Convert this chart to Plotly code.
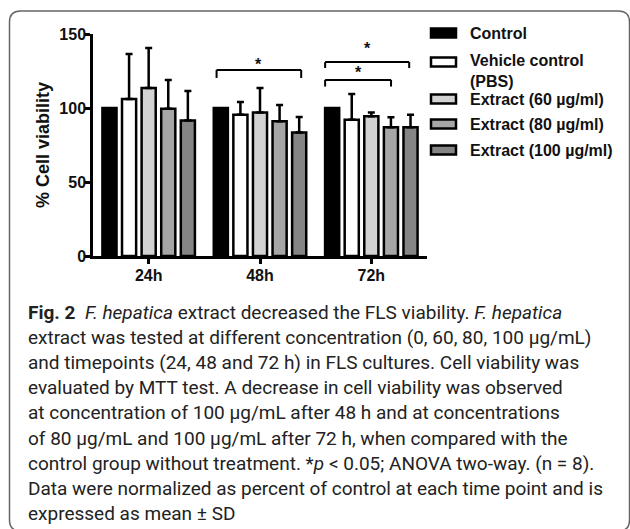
import plotly.graph_objects as go

# ---- data ----
timepoints = ["24h", "48h", "72h"]
series_names = ["Control", "Vehicle control<br>(PBS)", "Extract (60 µg/ml)",
                "Extract (80 µg/ml)", "Extract (100 µg/ml)"]
control = [100, 100, 100]
vehicle = [106, 95.5, 92]
extract_60 = [113.5, 97, 94.5]
extract_80 = [99.5, 91, 87]
extract_100 = [91.5, 83.5, 87]
sd_control = [0, 0, 0]
sd_vehicle = [30.5, 8.5, 17.5]
sd_60 = [27, 16.5, 2.5]
sd_80 = [19.5, 11, 6.8]
sd_100 = [20, 10.5, 8.4]
y_ticks = [0, 50, 100, 150]
y_title = "% Cell viability"
caption_lines = [
    "<b>Fig. 2</b>  <i>F. hepatica</i> extract decreased the FLS viability. <i>F. hepatica</i>",
    "extract was tested at different concentration (0, 60, 80, 100 µg/mL)",
    "and timepoints (24, 48 and 72 h) in FLS cultures. Cell viability was",
    "evaluated by MTT test. A decrease in cell viability was observed",
    "at concentration of 100 µg/mL after 48 h and at concentrations",
    "of 80 µg/mL and 100 µg/mL after 72 h, when compared with the",
    "control group without treatment. *<i>p</i> &lt; 0.05; ANOVA two-way. (n = 8).",
    "Data were normalized as percent of control at each time point and is",
    "expressed as mean ± SD",
]

values = [control, vehicle, extract_60, extract_80, extract_100]
sds = [sd_control, sd_vehicle, sd_60, sd_80, sd_100]
colors = ["#000000", "#ffffff", "#d2d2d2", "#a6a6a6", "#858585"]

W, H = 630, 529
def px(x):
    return x / W
def py(y):
    return 1 - y / H

BOLD = "Liberation Sans"
fig = go.Figure()
for name, v, sd, c in zip(series_names, values, sds, colors):
    err = None
    if any(s > 0 for s in sd):
        err = dict(type="data", symmetric=False, array=sd, arrayminus=[0] * len(sd),
                   color="#000", thickness=2.5, width=3.5)
    fig.add_trace(go.Bar(x=timepoints, y=v, name=name, marker=dict(color=c, line=dict(color="#000", width=2.5)),
                         error_y=err, showlegend=False))

shapes = []
annotations = []

# significance brackets (data coords)
def bracket(xa, xb, yh, yl, star_y):
    for (x0, y0, x1, y1) in [(xa, yh, xb, yh), (xa, yh, xa, yl), (xb, yh, xb, yl)]:
        shapes.append(dict(type="line", xref="x", yref="y", x0=x0, y0=y0, x1=x1, y1=y1,
                           line=dict(color="#000", width=2)))
    annotations.append(dict(x=(xa + xb) / 2, y=star_y, xref="x", yref="y", text="<b>*</b>",
                            showarrow=False, font=dict(family=BOLD, size=16, color="#111"),
                            yanchor="middle"))

bracket(0.61, 1.37, 125.7, 120.3, 129.5)
bracket(1.585, 2.34, 131, 127, 140)
bracket(1.585, 2.177, 119, 114.5, 124)

# legend (manual)
leg_y = [33, 62, 99, 124, 150]
leg_text_y = [33, 71, 99, 124, 150]
for name, c, yy, ty in zip(series_names, colors, leg_y, leg_text_y):
    shapes.append(dict(type="rect", xref="paper", yref="paper", x0=px(431), x1=px(456),
                       y0=py(yy - 4.5), y1=py(yy + 4.5), fillcolor=c, line=dict(color="#000", width=2.5)))
    annotations.append(dict(x=px(468), y=py(ty), xref="paper", yref="paper", text="<b>" + name + "</b>",
                            showarrow=False, xanchor="left", yanchor="middle", align="left",
                            font=dict(family=BOLD, size=16, color="#111")))

# caption
cap_y0, cap_dy = 312, 25.2
for i, line in enumerate(caption_lines):
    annotations.append(dict(x=px(26), y=py(cap_y0 + i * cap_dy), xref="paper", yref="paper", text=line,
                            showarrow=False, xanchor="left", yanchor="middle", align="left",
                            font=dict(family="Roboto, sans-serif", size=19, color="#222")))

# rounded border
x0, y0, x1, y1, r = 9.5, 11, 629.5, 531, 11
pts = [("M", x0 + r, y0), ("L", x1 - r, y0), ("Q", x1, y0, x1, y0 + r), ("L", x1, y1 - r),
       ("Q", x1, y1, x1 - r, y1), ("L", x0 + r, y1), ("Q", x0, y1, x0, y1 - r), ("L", x0, y0 + r),
       ("Q", x0, y0, x0 + r, y0)]
path = ""
for p in pts:
    cmd = p[0]
    coords = p[1:]
    seg = []
    for k in range(0, len(coords), 2):
        seg.append(f"{px(coords[k]):.5f},{py(coords[k+1]):.5f}")
    path += cmd + " ".join(seg) + " "
path += "Z"
shapes.append(dict(type="path", xref="paper", yref="paper", path=path, line=dict(color="#666", width=1.5)))

fig.update_layout(
    width=W, height=H, autosize=False,
    margin=dict(l=0, r=0, t=0, b=0),
    paper_bgcolor="white", plot_bgcolor="white",
    barmode="group", bargap=0.12, bargroupgap=0.28,
    shapes=shapes, annotations=annotations,
    xaxis=dict(domain=[px(93), px(427)], showline=True, linecolor="#000", linewidth=2.5,
               ticks="outside", ticklen=5, tickwidth=2.5, tickcolor="#000",
               tickfont=dict(family=BOLD, size=16, color="#111", weight="bold"), automargin=False,
               showgrid=False, zeroline=False, ticklabelstandoff=-2),
    yaxis=dict(domain=[py(256), py(34)], range=[0, 150], tickvals=y_ticks,
               showline=True, linecolor="#000", linewidth=2.5,
               ticks="outside", ticklen=6, tickwidth=2.5, tickcolor="#000",
               tickfont=dict(family=BOLD, size=16, color="#111", weight="bold"), automargin=False,
               showgrid=False, zeroline=False, ticklabelstandoff=-5,
               title=dict(text="<b>" + y_title + "</b>", font=dict(family=BOLD, size=18, color="#111"),
                          standoff=6)),
)

fig.write_html("out.html")
